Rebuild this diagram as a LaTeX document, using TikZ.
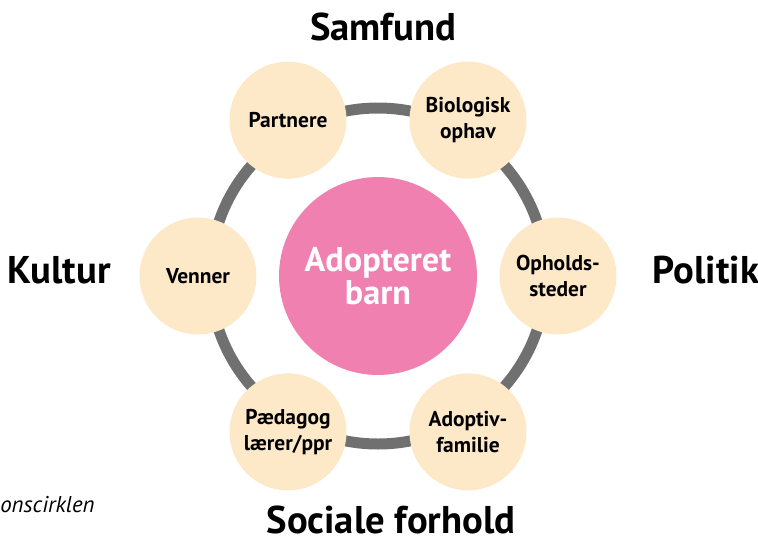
\documentclass[tikz,border=0pt]{standalone}
\usepackage{fontspec}
\setmainfont{PT Sans}
\usetikzlibrary{positioning}

\definecolor{ringgray}{RGB}{112,112,112}
\definecolor{peach}{RGB}{253,232,200}
\definecolor{rosa}{RGB}{239,128,176}

\tikzset{
    member/.style={circle, minimum size=2.34cm, inner sep=0pt, fill=peach, align=center,
        font=\fontsize{12.2}{14.6}\selectfont\bfseries},
    core/.style={circle, minimum size=3.96cm, inner sep=0pt, fill=rosa, text=white, align=center,
        font=\fontsize{19.5}{19}\selectfont\bfseries},
    field/.style={font=\fontsize{22}{24}\selectfont\bfseries}
}

\begin{document}
\begin{tikzpicture}[x=0.02cm, y=0.02cm]

    \useasboundingbox (-378,-266) rectangle (380,276);

    \draw[ringgray, line width=0.22cm] (0,0) circle (168);

    \node[core] (barn) at (0,0) {Adopteret\\barn};

    \node[member] (partnere) at (120:180) {Partnere};
    \node[member] (biologisk) at (60:180) {Biologisk\\ophav};
    \node[member] (opholdssteder) at (0:180) {Opholds-\\steder};
    \node[member] (adoptivfamilie) at (-60:180) {Adoptiv-\\familie};
    \node[member] (paedagog) at (-120:180) {Pædagog\\lærer/ppr};
    \node[member] (venner) at (180:180) {Venner};

    \node[field] (samfund) at (5,249) {Samfund};
    \node[field] (kultur) at (-319,6) {Kultur};
    \node[field] (politik) at (328,6) {Politik};
    \node[field] (sociale) at (13,-244) {Sociale forhold};

    \node[anchor=west, inner sep=0pt, font=\fontsize{13}{15}\selectfont\itshape] (figurtekst) at (-378,-229) {onscirklen};

\end{tikzpicture}
\end{document}
